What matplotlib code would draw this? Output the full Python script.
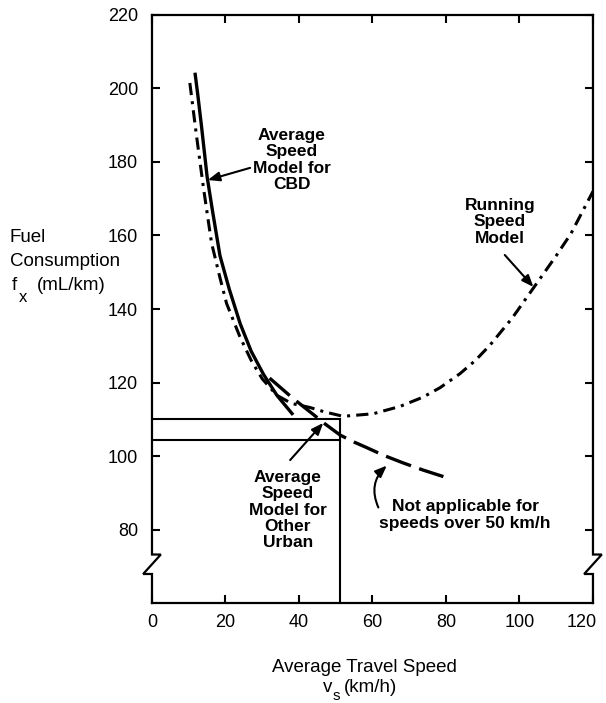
import matplotlib
matplotlib.use("Agg")
import matplotlib.pyplot as plt
import matplotlib.transforms as mtransforms

plt.rcParams['font.family'] = ['Liberation Sans', 'DejaVu Sans']

# Average speed model for CBD (solid)
cbd_speed = [11.7, 12.5, 13.5, 15.0, 16.5, 18.5, 21.0, 24.0, 27.0, 30.3, 34.0, 38.4]
cbd_fuel = [204.3, 198.0, 189.5, 176.0, 166.5, 154.5, 145.5, 136.0, 128.5, 122.3, 116.5, 111.2]

# Average speed model for other urban (dashed)
urban_speed = [32.0, 35.0, 38.0, 41.0, 43.9, 47.0, 51.2, 55.0, 58.4, 63.0, 68.4, 74.0, 79.3]
urban_fuel = [121.2, 118.6, 116.0, 113.6, 111.3, 108.8, 105.7, 103.8, 102.3, 100.2, 98.1, 96.1, 94.4]

# Running speed model (dash-dot)
run_speed = [10.3, 12.0, 14.0, 16.2, 18.5, 20.3, 23.9, 27.0, 30.0, 34.0, 38.0, 43.0, 47.0,
             52.0, 60.2, 67.5, 73.7, 78.4, 83.8, 88.0, 92.0, 98.0, 104.0, 110.0, 114.0, 120.0]
run_fuel = [201.5, 188.0, 173.0, 158.0, 148.5, 141.5, 132.5, 126.0, 121.0, 116.5, 114.3, 113.2, 112.0,
            110.8, 111.5, 113.5, 116.0, 118.6, 122.4, 126.0, 130.2, 137.5, 146.0, 154.5, 160.5, 172.0]

# Reading at 51 km/h
ref_speed = 51.2
ref_fuel_running = 110.0
ref_fuel_urban = 104.3

x_ticks = [0, 20, 40, 60, 80, 100, 120]
y_ticks = [80, 100, 120, 140, 160, 180, 200, 220]
y_min, y_max = 60, 220
break_lo, break_hi = 67.9, 73.2

fig = plt.figure(figsize=(6.06, 7.03), dpi=100)
ax = fig.add_axes([0.2508, 0.1422, 0.7277, 0.8365])
ax.set_xlim(0, 120)
ax.set_ylim(y_min, y_max)

ax.spines['left'].set_visible(False)
ax.spines['right'].set_visible(False)
for s in ('top', 'bottom'):
    ax.spines[s].set_linewidth(1.6)

# vertical spines with a Z-shaped axis break
dx = 2.4
for x0 in (0, 120):
    ax.plot([x0, x0, x0 - dx, x0 + dx, x0, x0],
            [y_min, break_lo, break_lo, break_hi, break_hi, y_max],
            color='black', lw=1.6, clip_on=False, solid_joinstyle='miter',
            zorder=5)

ax.set_xticks(x_ticks)
ax.set_yticks(y_ticks)
ax.tick_params(axis='both', direction='in', length=6, width=1.5,
               top=True, right=True, labelsize=13)
ax.tick_params(axis='x', pad=8)
ax.tick_params(axis='y', pad=10)

# keep the last x label inside the figure
last = ax.get_xticklabels()[-1]
last.set_horizontalalignment('right')
last.set_transform(last.get_transform() +
                   mtransforms.ScaledTranslation(4 / 100, 0, fig.dpi_scale_trans))

# model curves
ax.plot(cbd_speed, cbd_fuel, color='black', lw=2.4, solid_capstyle='butt')
ax.plot(urban_speed, urban_fuel, color='black', lw=2.4, dashes=(8, 2.6))
ax.plot(run_speed, run_fuel, color='black', lw=2.2, dashes=(4, 2, 1, 2))

# reference lines
ax.plot([0, ref_speed], [ref_fuel_running, ref_fuel_running], color='black', lw=1.5)
ax.plot([0, ref_speed], [ref_fuel_urban, ref_fuel_urban], color='black', lw=1.5)
ax.plot([ref_speed, ref_speed], [y_min, ref_fuel_running], color='black', lw=1.5)

# annotations
lab = dict(ha='center', va='center', fontsize=12.5, fontweight='bold', linespacing=1.12)
ax.text(38.1, 180.5, "Average\nSpeed\nModel for\nCBD", **lab)
ax.text(94.7, 163.7, "Running\nSpeed\nModel", **lab)
ax.text(37.0, 85.3, "Average\nSpeed\nModel for\nOther\nUrban", **lab)
ax.text(85.2, 83.9, "Not applicable for\nspeeds over 50 km/h", **lab)

arrow = dict(arrowstyle='-|>,head_length=0.7,head_width=0.28', lw=1.5,
             color='black', shrinkA=0, shrinkB=0)
ax.annotate('', xy=(15.2, 175.1), xytext=(26.7, 178.4), arrowprops=arrow)
ax.annotate('', xy=(103.8, 146.0), xytext=(96.0, 154.7), arrowprops=arrow)
ax.annotate('', xy=(46.6, 109.0), xytext=(37.6, 98.9), arrowprops=arrow)
ax.annotate('', xy=(63.9, 97.4), xytext=(61.6, 86.0),
            arrowprops=dict(arrow, connectionstyle='arc3,rad=-0.35'))

# axis titles
W, H = 606.0, 703.0
def ft(x, y, s, **kw):
    fig.text(x / W, 1 - y / H, s, va='center', **kw)

ft(10, 238, "Fuel", fontsize=13.5)
ft(10, 262, "Consumption", fontsize=13.5)
ft(12, 286, "f", fontsize=13.5)
ft(19, 298, "x", fontsize=12)
ft(37, 286, "(mL/km)", fontsize=13.5)

ft(364, 667, "Average Travel Speed", fontsize=13.5, ha='center')
ft(323, 688, "v", fontsize=13.5)
ft(333, 696, "s", fontsize=11)
ft(344, 688, "(km/h)", fontsize=13.5)

fig.savefig("out.png", dpi=100, facecolor='white')
